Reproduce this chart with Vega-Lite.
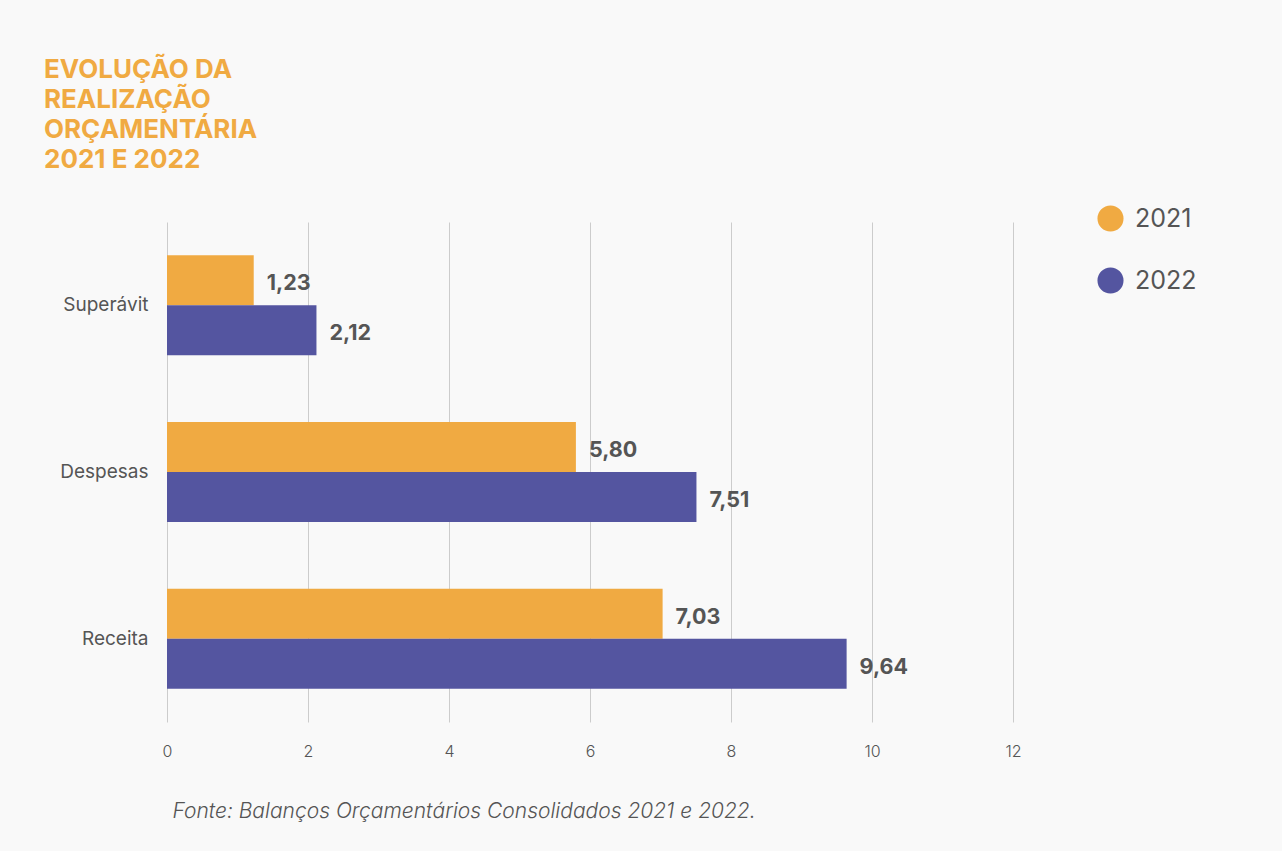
{
  "$schema": "https://vega.github.io/schema/vega-lite/v6.json",
  "autosize": {"type": "none"},
  "width": 846,
  "height": 500,
  "padding": {"left": 167, "top": 222, "right": 269, "bottom": 129},
  "background": "#f9f9f9",
  "title": {
    "text": ["EVOLUÇÃO DA", "REALIZAÇÃO", "ORÇAMENTÁRIA", "2021 E 2022"],
    "anchor": "start",
    "frame": "group",
    "dx": -123,
    "offset": 32,
    "font": "Inter",
    "fontSize": 26,
    "fontWeight": 700,
    "lineHeight": 30,
    "color": "#f0aa42"
  },
  "data": {
    "values": [
      {"categoria": "Superávit", "ano": "2021", "valor": 1.23, "rotulo": "1,23"},
      {"categoria": "Superávit", "ano": "2022", "valor": 2.12, "rotulo": "2,12"},
      {"categoria": "Despesas", "ano": "2021", "valor": 5.80, "rotulo": "5,80"},
      {"categoria": "Despesas", "ano": "2022", "valor": 7.51, "rotulo": "7,51"},
      {"categoria": "Receita", "ano": "2021", "valor": 7.03, "rotulo": "7,03"},
      {"categoria": "Receita", "ano": "2022", "valor": 9.64, "rotulo": "9,64"}
    ]
  },
  "encoding": {
    "y": {
      "field": "categoria",
      "type": "nominal",
      "sort": ["Superávit", "Despesas", "Receita"],
      "scale": {"paddingInner": 0.4, "paddingOuter": 0.2},
      "axis": {
        "title": null,
        "domain": false,
        "ticks": false,
        "grid": false,
        "labelPadding": 19,
        "labelFont": "Inter",
        "labelFontSize": 19,
        "labelColor": "#555555"
      }
    },
    "yOffset": {"field": "ano", "type": "nominal", "sort": ["2021", "2022"]},
    "x": {
      "field": "valor",
      "type": "quantitative",
      "scale": {"domain": [0, 12], "nice": false},
      "axis": {
        "values": [0, 2, 4, 6, 8, 10, 12],
        "title": "Fonte: Balanços Orçamentários Consolidados 2021 e 2022.",
        "titleAnchor": "start",
        "titleAlign": "left",
        "titleBaseline": "middle",
        "titleX": 5,
        "titleY": 89,
        "titleFont": "Inter",
        "titleFontSize": 21,
        "titleFontStyle": "italic",
        "titleFontWeight": 300,
        "titleColor": "#555555",
        "domain": false,
        "ticks": false,
        "grid": true,
        "gridColor": "#cccccc",
        "gridWidth": 1,
        "labelFlush": false,
        "labelPadding": 21,
        "labelFont": "Inter",
        "labelFontSize": 16,
        "labelFontWeight": 300,
        "labelColor": "#555555"
      }
    }
  },
  "layer": [
    {
      "mark": {"type": "bar"},
      "encoding": {
        "color": {
          "field": "ano",
          "type": "nominal",
          "scale": {"domain": ["2021", "2022"], "range": ["#f0aa42", "#5455a0"]},
          "legend": {
            "title": null,
            "orient": "none",
            "legendX": 930,
            "legendY": -17,
            "symbolType": "circle",
            "symbolSize": 680,
            "symbolStrokeWidth": 0,
            "symbolOpacity": 1,
            "labelFont": "Inter",
            "labelFontSize": 25,
            "labelColor": "#555555",
            "labelOffset": 11,
            "rowPadding": 35
          }
        }
      }
    },
    {
      "mark": {
        "type": "text",
        "align": "left",
        "baseline": "middle",
        "dx": 13,
        "dy": 4,
        "font": "Inter",
        "fontSize": 21.5,
        "fontWeight": 700,
        "color": "#555555"
      },
      "encoding": {
        "text": {"field": "rotulo", "type": "nominal"}
      }
    }
  ],
  "config": {"view": {"stroke": null}}
}
